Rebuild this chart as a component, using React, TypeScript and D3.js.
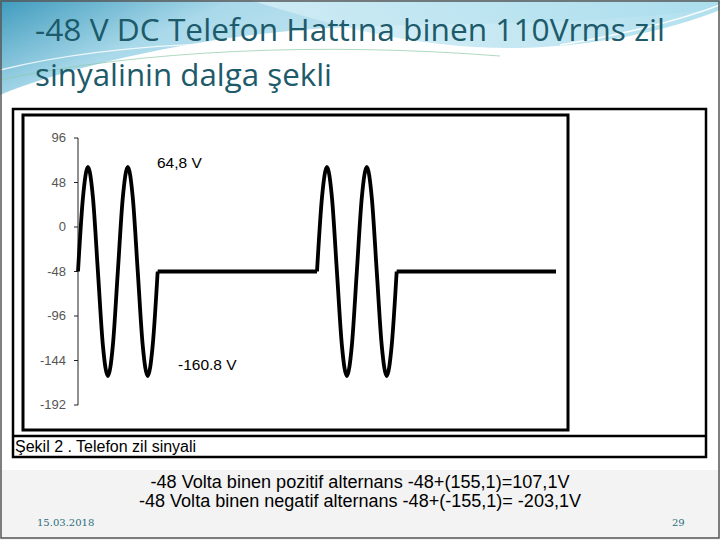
import React from "react";
import * as d3 from "d3";

// ---- data ----
const timeMs = [0, 5, 10, 15, 20, 25, 30, 35, 40, 45, 50, 55, 60, 65, 70, 75, 80];
const burstVolts = [-48, 31.8, 64.8, 31.8, -48, -127.8, -160.8, -127.8, -48, 31.8, 64.8, 31.8, -48, -127.8, -160.8, -127.8, -48];
const burstStarts = [0, 240];
const flatSegments: [number, number][] = [[80, 240], [320, 480]];
const dcLevel = -48;
const yTicks = [96, 48, 0, -48, -96, -144, -192];
const xDomain = [0, 480];
const yDomain = [-192, 96];
const peakLabel = "64,8 V";
const troughLabel = "-160.8 V";
const titleLines = ["-48 V DC Telefon Hattına binen 110Vrms zil", "sinyalinin dalga şekli"];
const caption = "Şekil 2 . Telefon zil sinyali";
const noteLines = [
  "-48 Volta binen pozitif alternans -48+(155,1)=107,1V",
  "-48 Volta binen negatif alternans -48+(-155,1)= -203,1V",
];
const footerDate = "15.03.2018";
const footerPage = "29";

export default function App() {
  const x = d3.scaleLinear().domain(xDomain).range([78, 556]);
  const y = d3.scaleLinear().domain(yDomain).range([405, 138]);
  const burstLine = d3
    .line<number>()
    .x((_, i) => x(timeMs[i]))
    .y((v) => y(v))
    .curve(d3.curveMonotoneX);

  const arial = "'Liberation Sans', Arial, sans-serif";
  const titleFont = "'Open Sans', Lato, sans-serif";

  return (
    <svg
      width={720}
      height={540}
      style={{ position: "absolute", left: 0, top: 0 }}
      xmlns="http://www.w3.org/2000/svg"
    >
      <defs>
        <linearGradient id="sw1" x1="0" y1="0" x2="1" y2="0.3">
          <stop offset="0" stopColor="#3f9bbd" />
          <stop offset="0.3" stopColor="#a9d9ea" />
          <stop offset="1" stopColor="#e4f5fa" />
        </linearGradient>
        <linearGradient id="sw2" x1="0" y1="0" x2="1" y2="0">
          <stop offset="0" stopColor="#d6eff7" />
          <stop offset="1" stopColor="#9fd8ea" />
        </linearGradient>
      </defs>
      {/* slide background */}
      <rect x={0} y={0} width={720} height={540} fill="#ffffff" />
      <rect x={0} y={470} width={720} height={70} fill="#f3f3f3" />
      {/* top swoosh decoration */}
      <path d="M0,0 H720 V8 C560,30 420,20 300,30 C180,40 60,70 0,95 Z" fill="url(#sw1)" />
      <path d="M250,0 C330,25 420,50 520,48 C600,46 670,30 720,10 V0 Z" fill="url(#sw2)" opacity={0.8} />
      <path d="M0,70 C120,40 300,35 470,52" fill="none" stroke="#ffffff" strokeWidth={1.5} opacity={0.8} />
      <path d="M0,80 C140,50 320,42 500,56" fill="none" stroke="#8cc9a8" strokeWidth={1} opacity={0.7} />
      <path d="M560,45 C620,35 680,20 720,5" fill="none" stroke="#ffffff" strokeWidth={1.5} opacity={0.9} />
      <path d="M590,50 C650,38 690,25 720,15" fill="none" stroke="#ffffff" strokeWidth={1} opacity={0.9} />

      {/* title */}
      {titleLines.map((t, i) => (
        <text
          key={i}
          x={35}
          y={41 + i * 45}
          fontFamily={titleFont}
          fontSize={31}
          fill="#1d5a6a"
          textLength={i === 0 ? 630 : 297}
          lengthAdjust="spacingAndGlyphs"
        >
          {t}
        </text>
      ))}

      {/* image area */}
      <rect x={0} y={95} width={720} height={375} fill="#ffffff" />
      <rect x={13} y={109} width={693} height={348} fill="none" stroke="#000" strokeWidth={2.5} />
      <line x1={13} x2={706} y1={436} y2={436} stroke="#000" strokeWidth={2.5} />
      <rect x={23} y={115} width={545} height={315} fill="none" stroke="#000" strokeWidth={3} />
      <text x={15} y={452} fontFamily={arial} fontSize={16} fill="#000">
        {caption}
      </text>

      {/* axis */}
      <line x1={x(0)} x2={x(0)} y1={y(96)} y2={y(-192)} stroke="#222" strokeWidth={1} />
      {yTicks.map((t) => (
        <g key={t}>
          <line x1={x(0) - 4} x2={x(0)} y1={y(t)} y2={y(t)} stroke="#222" strokeWidth={1} />
          <text
            x={x(0) - 12}
            y={y(t) + 4}
            textAnchor="end"
            fontFamily={arial}
            fontSize={13}
            fill="#555"
          >
            {t}
          </text>
        </g>
      ))}

      {/* waveform */}
      <g fill="none" stroke="#000" strokeWidth={3.8} strokeLinejoin="miter">
        {burstStarts.map((s, k) => (
          <path
            key={k}
            transform={`translate(${x(s) - x(0)},0)`}
            d={burstLine(burstVolts) || ""}
          />
        ))}
        {flatSegments.map(([a, b], k) => (
          <line key={k} x1={x(a)} x2={x(b)} y1={y(dcLevel)} y2={y(dcLevel)} />
        ))}
      </g>
      <text x={157} y={168} fontFamily={arial} fontSize={15.5} fill="#000">
        {peakLabel}
      </text>
      <text x={178} y={370} fontFamily={arial} fontSize={15.5} fill="#000">
        {troughLabel}
      </text>

      {/* notes */}
      {noteLines.map((t, i) => (
        <text
          key={i}
          x={360}
          y={488 + i * 19}
          textAnchor="middle"
          fontFamily={arial}
          fontSize={17.5}
          fill="#000"
          textLength={i === 0 ? 419 : 442}
          lengthAdjust="spacingAndGlyphs"
        >
          {t}
        </text>
      ))}

      {/* footer */}
      <text x={37} y={526} fontFamily="'DejaVu Serif', serif" fontSize={10} fill="#2a6f80">
        {footerDate}
      </text>
      <text x={672} y={526} fontFamily="'DejaVu Serif', serif" fontSize={10} fill="#2a6f80">
        {footerPage}
      </text>

      {/* slide border */}
      <rect x={1} y={1} width={718} height={537} fill="none" stroke="#555" strokeWidth={1.5} />
    </svg>
  );
}
